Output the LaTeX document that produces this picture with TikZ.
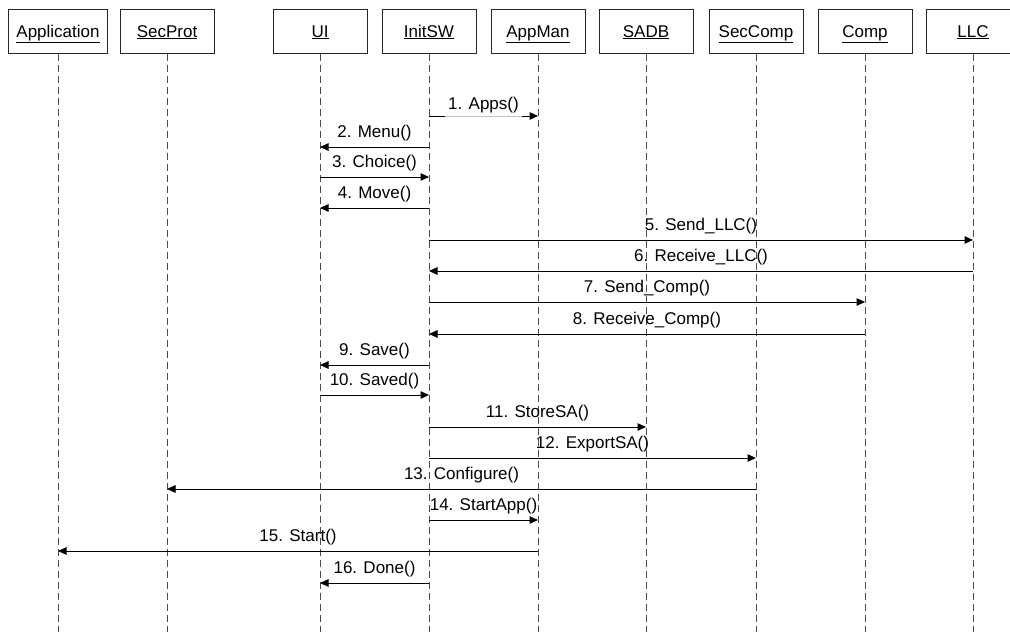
\documentclass[tikz,border=0pt]{standalone}
\usepackage{fontspec}
\setmainfont{Liberation Sans}
\usetikzlibrary{arrows.meta}
\begin{document}
\begin{tikzpicture}[x=1pt,y=-1pt,
  every node/.style={font=\fontsize{17}{20}\selectfont},
  head/.style={draw=black!85, fill=white, line width=1pt, minimum width=94pt,
    minimum height=44pt, inner sep=0pt, text height=12.2pt, text depth=0pt},
  lifeline/.style={draw=black!70, line width=1pt, dash pattern=on 7pt off 4pt},
  msg/.style={draw=black, line width=1pt, -{Triangle[length=8.5pt,width=7.5pt]}},
  lbl/.style={midway, yshift=13.5pt, inner sep=0pt, text height=12pt, text depth=3.5pt},
  lowlbl/.style={midway, yshift=11pt, inner xsep=3.5pt, inner ysep=4.2pt,
    text height=12pt, text depth=3.5pt, fill=white, fill opacity=0.75, text opacity=1}]
\useasboundingbox (0,0) rectangle (1010,632);

% lifeline heads
\node[head, minimum width=99pt] (hApp) at (58,31)  {\underline{Application}};
\node[head] (hSecProt) at (167,31) {\underline{SecProt}};
\node[head] (hUI)      at (320,31) {\underline{UI}};
\node[head] (hInitSW)  at (429,31) {\underline{InitSW}};
\node[head] (hAppMan)  at (538,31) {\underline{AppMan}};
\node[head] (hSADB)    at (646,31) {\underline{SADB}};
\node[head] (hSecComp) at (756,31) {\underline{SecComp}};
\node[head] (hComp)    at (865,31) {\underline{Comp}};
\node[head] (hLLC)     at (973,31) {\underline{LLC}};

% lifelines run down to the bottom edge
\coordinate (bottom) at (0,632);
\foreach \h in {App,SecProt,UI,InitSW,AppMan,SADB,SecComp,Comp,LLC}
  \draw[lifeline] (h\h.south) -- (h\h.south |- bottom);

% message rows
\foreach \i/\y in {1/116,2/147,3/177,4/208,5/240,6/271,7/302,8/334,
                   9/365,10/395,11/427,12/458,13/489,14/520,15/551,16/583}
  \coordinate (r\i) at (0,\y);

\draw[msg] (hInitSW |- r1)  -- node[lowlbl]{1. Apps()}      (hAppMan |- r1);
\draw[msg] (hInitSW |- r2)  -- node[lbl]{2. Menu()}         (hUI |- r2);
\draw[msg] (hUI |- r3)      -- node[lbl]{3. Choice()}       (hInitSW |- r3);
\draw[msg] (hInitSW |- r4)  -- node[lbl]{4. Move()}         (hUI |- r4);
\draw[msg] (hInitSW |- r5)  -- node[lbl]{5. Send\_LLC()}    (hLLC |- r5);
\draw[msg] (hLLC |- r6)     -- node[lbl]{6. Receive\_LLC()} (hInitSW |- r6);
\draw[msg] (hInitSW |- r7)  -- node[lbl]{7. Send\_Comp()}   (hComp |- r7);
\draw[msg] (hComp |- r8)    -- node[lbl]{8. Receive\_Comp()}(hInitSW |- r8);
\draw[msg] (hInitSW |- r9)  -- node[lbl]{9. Save()}         (hUI |- r9);
\draw[msg] (hUI |- r10)     -- node[lbl]{10. Saved()}       (hInitSW |- r10);
\draw[msg] (hInitSW |- r11) -- node[lbl]{11. StoreSA()}     (hSADB |- r11);
\draw[msg] (hInitSW |- r12) -- node[lbl]{12. ExportSA()}    (hSecComp |- r12);
\draw[msg] (hSecComp |- r13)-- node[lbl]{13. Configure()}   (hSecProt |- r13);
\draw[msg] (hInitSW |- r14) -- node[lbl]{14. StartApp()}    (hAppMan |- r14);
\draw[msg] (hAppMan |- r15) -- node[lbl]{15. Start()}       (hApp |- r15);
\draw[msg] (hInitSW |- r16) -- node[lbl]{16. Done()}        (hUI |- r16);
\end{tikzpicture}
\end{document}
